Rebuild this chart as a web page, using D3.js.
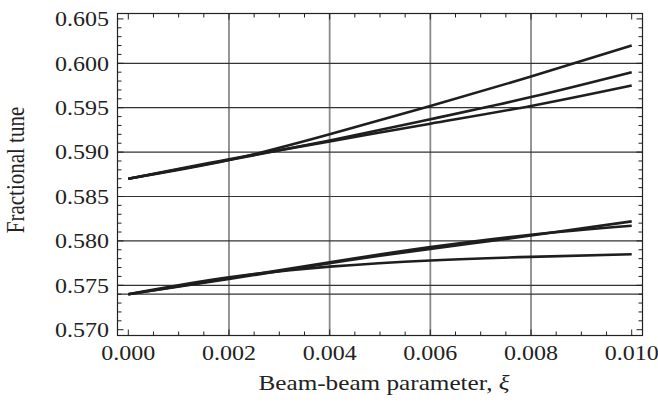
<!DOCTYPE html>
<html><head><meta charset="utf-8">
<script src="https://cdn.jsdelivr.net/npm/d3@7"></script>
<style>body{margin:0;background:#fff}svg{display:block}</style>
</head><body><svg id="c" width="658" height="407"></svg>
<script>
const xs = [0, 0.002, 0.004, 0.006, 0.008, 0.010];
const upperA = [0.587, 0.5891, 0.5920, 0.5952, 0.5985, 0.6020];
const upperB = [0.587, 0.5891, 0.5913, 0.5937, 0.5962, 0.5990];
const upperC = [0.587, 0.5892, 0.5912, 0.5932, 0.5952, 0.5975];
const lowerA = [0.574, 0.5758, 0.5776, 0.5793, 0.5807, 0.5817];
const lowerB = [0.574, 0.5757, 0.5775, 0.5791, 0.5806, 0.5822];
const lowerC = [0.574, 0.5759, 0.5771, 0.5778, 0.5782, 0.5785];
const series = [upperA, upperB, upperC, lowerA, lowerB, lowerC];
const xTicks = [0, 0.002, 0.004, 0.006, 0.008, 0.010];
const yTicks = [0.570, 0.575, 0.580, 0.585, 0.590, 0.595, 0.600, 0.605];
const yGrid = [0.574, 0.575, 0.580, 0.585, 0.590, 0.595, 0.600];
const xGrid = [0.002, 0.004, 0.006, 0.008];

const FONT = "'Liberation Serif', 'DejaVu Serif', 'Times New Roman', serif";
const SX = 1.2;
const svg = d3.select("#c");
const L = 117.5, R = 642.5, T = 13.5, B = 335.5;
const x = d3.scaleLinear().domain([0, 0.010]).range([128.3, 631.7]);
const y = d3.scaleLinear().domain([0.570, 0.605]).range([329.7, 18.9]);

svg.append("g").selectAll("line").data(xGrid).join("line")
  .attr("x1", d => x(d)).attr("x2", d => x(d)).attr("y1", T).attr("y2", B)
  .attr("stroke", "#8a8a8a").attr("stroke-width", 1.8);
svg.append("g").selectAll("line").data(yGrid).join("line")
  .attr("x1", L).attr("x2", R).attr("y1", d => y(d)).attr("y2", d => y(d))
  .attr("stroke", "#333").attr("stroke-width", 1.2);

const line = d3.line().x((d, i) => x(xs[i])).y(d => y(d)).curve(d3.curveNatural);
svg.append("g").selectAll("path").data(series).join("path")
  .attr("d", d => line(d)).attr("fill", "none")
  .attr("stroke", "#1e1e1e").attr("stroke-width", 2.6);

svg.append("rect").attr("x", L).attr("y", T).attr("width", R - L).attr("height", B - T)
  .attr("fill", "none").attr("stroke", "#222").attr("stroke-width", 1.2);

const xMinor = d3.range(0, 0.01 + 1e-9, 0.0005);
const yMinor = d3.range(0.570, 0.605 + 1e-9, 0.001);
const tk = svg.append("g").attr("stroke", "#222").attr("stroke-width", 1);
xMinor.forEach(v => {
  const major = xTicks.some(t => Math.abs(t - v) < 1e-7);
  const len = major ? 6 : 4;
  tk.append("line").attr("x1", x(v)).attr("x2", x(v)).attr("y1", B).attr("y2", B - len);
  tk.append("line").attr("x1", x(v)).attr("x2", x(v)).attr("y1", T).attr("y2", T + len);
});
yMinor.forEach(v => {
  const major = yTicks.some(t => Math.abs(t - v) < 1e-7);
  const len = major ? 6 : 4;
  tk.append("line").attr("y1", y(v)).attr("y2", y(v)).attr("x1", L).attr("x2", L + len);
  tk.append("line").attr("y1", y(v)).attr("y2", y(v)).attr("x1", R).attr("x2", R - len);
});

svg.append("g").selectAll("text").data(yTicks).join("text")
  .attr("font-family", FONT).attr("fill", "#222")
  .attr("transform", d => `translate(109,${y(d) + 7.3}) scale(${SX},1)`)
  .attr("text-anchor", "end")
  .attr("font-size", 20).text(d => d3.format(".3f")(d));
svg.append("g").selectAll("text").data(xTicks).join("text")
  .attr("font-family", FONT).attr("fill", "#222")
  .attr("transform", d => `translate(${x(d)},359.5) scale(${SX},1)`)
  .attr("text-anchor", "middle")
  .attr("font-size", 20).text(d => d3.format(".3f")(d));

const xt = svg.append("text").attr("font-family", FONT).attr("fill", "#222")
  .attr("transform", `translate(384,390) scale(${SX},1)`)
  .attr("text-anchor", "middle").attr("font-size", 21);
xt.append("tspan").text("Beam-beam parameter, ");
xt.append("tspan").attr("font-style", "italic").text("ξ");
svg.append("text").attr("font-family", FONT).attr("fill", "#222")
  .attr("transform", `translate(24,170) scale(${SX},1) rotate(-90)`)
  .attr("text-anchor", "middle").attr("font-size", 21).text("Fractional tune");
</script></body></html>
